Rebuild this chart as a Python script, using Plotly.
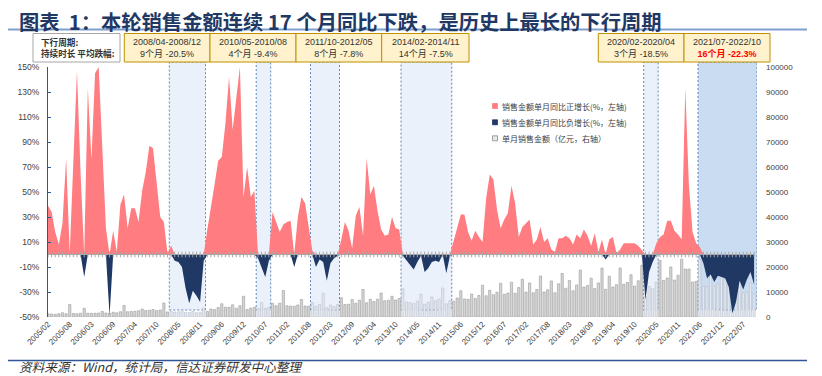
import plotly.graph_objects as go

# ---------------- data ----------------
YEARS = list(range(2005, 2023))
MONTHS = ["02", "03", "04", "05", "06", "07", "08", "09", "10", "11", "12"]
categories = [f"{y}/{m}" for y in YEARS for m in MONTHS if not (y == 2022 and int(m) > 10)]

# single-month YoY of sales amount (%), Feb..Dec each year (Jan merged into Feb)
yoy_2005 = [39, 34, 18, 8, 25, 77, 1, 75, 147, 65, -18]
yoy_2006 = [133, 76, 145, 150, 85, 21, -49, 19, 2, 40, 48]
yoy_2007 = [21, 37, 37, 26, 51, 66, 87, 85, 57, 30, 26]
yoy_2008 = [1, 7, -5, -6, -10, -27, -39, -29, -33, -38, -5]
yoy_2009 = [20, 40, 56, 75, 78, 105, 142, 100, 125, 150, 46]
yoy_2010 = [70, 46, 51, -3, -11, -18, -5, 34, 26, 18, 24]
yoy_2011 = [26, 27, -10, 30, 46, 41, 22, 3, -10, -4, -6]
yoy_2012 = [-21, -7, -3, -1, 12, 26, 19, 5, 31, 38, 15]
yoy_2013 = [77, 48, 55, 35, 20, 15, 16, 30, 21, 20, -1]
yoy_2014 = [-5, -9, -12, -6, -1, -14, -11, -6, -5, -6, 1]
yoy_2015 = [-15, -1, 10, 22, 32, 32, 18, 11, 19, 14, 10]
yoy_2016 = [45, 64, 60, 36, 21, 28, 33, 55, 41, 14, 22]
yoy_2017 = [25, 28, 8, 12, 22, 10, 13, 4, 2, 13, 13]
yoy_2018 = [15, 13, 8, 16, 13, 20, 15, 7, 17, 2, 12]
yoy_2019 = [-4, 12, 14, 1, 4, 9, 9, 9, 9, 7, 3]
yoy_2020 = [-36, -14, -6, 9, 14, 16, 27, 27, 19, 16, 12]
yoy_2021 = [133, 55, 18, 9, 6, -7, -19, -16, -22, -17, -18]
yoy_2022 = [-19, -26, -47, -38, -21, -28, -20, -14, -24]
yoy = (yoy_2005 + yoy_2006 + yoy_2007 + yoy_2008 + yoy_2009 + yoy_2010 + yoy_2011 +
       yoy_2012 + yoy_2013 + yoy_2014 + yoy_2015 + yoy_2016 + yoy_2017 + yoy_2018 +
       yoy_2019 + yoy_2020 + yoy_2021 + yoy_2022)

# single-month sales amount (100 million yuan)
sales_2005 = [1300, 1200, 1100, 1300, 1700, 1300, 5000, 1400, 1300, 1500, 3500]
sales_2006 = [1500, 1500, 1500, 1600, 2200, 1600, 1500, 1900, 1700, 2100, 4600]
sales_2007 = [2100, 2200, 2300, 2500, 3200, 2600, 2700, 3000, 2600, 2800, 5600]
sales_2008 = [2000, 2300, 2000, 2100, 2700, 1900, 1800, 2200, 1700, 1900, 3600]
sales_2009 = [2200, 3200, 3000, 3800, 5300, 3900, 3900, 4900, 3500, 4500, 8300]
sales_2010 = [3000, 3600, 3900, 3500, 5800, 3400, 3900, 5500, 4500, 5500, 10600]
sales_2011 = [4500, 4400, 4300, 4800, 7000, 4400, 4300, 5800, 4300, 5000, 9500]
sales_2012 = [3700, 4800, 4200, 5000, 7700, 5000, 5100, 7000, 5500, 6700, 11000]
sales_2013 = [5700, 7100, 6200, 7100, 9600, 6500, 6700, 8300, 6800, 7400, 11300]
sales_2014 = [6000, 5700, 5400, 6400, 9100, 5100, 5900, 8000, 6500, 7100, 11600]
sales_2015 = [5300, 6500, 6300, 7600, 10500, 7200, 7100, 9200, 7400, 8600, 12700]
sales_2016 = [8500, 10700, 8900, 9900, 13500, 9100, 9600, 13900, 9500, 11800, 15100]
sales_2017 = [10000, 13600, 9700, 11000, 16400, 10000, 10900, 14400, 9700, 13300, 17400]
sales_2018 = [11500, 14600, 10500, 12800, 18800, 12000, 12600, 15500, 11400, 13600, 19600]
sales_2019 = [11100, 16300, 12000, 12900, 19600, 13100, 13800, 16900, 12400, 14500, 20700]
sales_2020 = [8200, 12200, 11300, 14000, 22600, 14600, 15600, 20000, 14800, 16700, 23100]
sales_2021 = [19200, 19200, 14000, 14200, 23100, 12300, 12200, 17400, 12300, 13300, 21500]
sales_2022 = [15500, 14200, 7400, 11100, 18000, 9700, 10100, 13500, 9500]
sales = (sales_2005 + sales_2006 + sales_2007 + sales_2008 + sales_2009 + sales_2010 +
         sales_2011 + sales_2012 + sales_2013 + sales_2014 + sales_2015 + sales_2016 +
         sales_2017 + sales_2018 + sales_2019 + sales_2020 + sales_2021 + sales_2022)

TICK_LABELS = ["2005/02", "2005/08", "2006/03", "2006/09", "2007/04", "2007/10", "2008/05",
               "2008/11", "2009/06", "2009/12", "2010/07", "2011/02", "2011/08", "2012/03",
               "2012/09", "2013/04", "2013/10", "2014/05", "2014/11", "2015/06", "2015/12",
               "2016/07", "2017/02", "2017/08", "2018/03", "2018/09", "2019/04", "2019/10",
               "2020/05", "2020/11", "2021/06", "2021/12", "2022/07"]
LEFT_TICKS = [-50, -30, -10, 10, 30, 50, 70, 90, 110, 130, 150]
RIGHT_TICKS = [0, 10000, 20000, 30000, 40000, 50000, 60000, 70000, 80000, 90000, 100000]

# shaded down-cycle spans (first / last category covered)
SHADE_SPANS = [("2008/03", "2008/12"), ("2010/05", "2010/08"), ("2011/09", "2012/05"),
               ("2013/12", "2015/03"), ("2020/02", "2020/05"), ("2021/06", "2022/10")]
PERIOD_NAMES = ["2008/04-2008/12", "2010/05-2010/08", "2011/10-2012/05",
                "2014/02-2014/11", "2020/02-2020/04", "2021/07-2022/10"]
PERIOD_STATS = ["9个月 -20.5%", "4个月 -9.4%", "8个月 -7.8%", "14个月 -7.5%",
                "3个月 -18.5%", "16个月 -22.3%"]

TITLE = "图表  1：本轮销售金额连续 17 个月同比下跌，是历史上最长的下行周期"
SOURCE = "资料来源：Wind，统计局，信达证券研发中心整理"
HEADER = ["下行周期:", "持续时长 平均跌幅:"]
LEGEND_NAMES = ["销售金额单月同比正增长(%，左轴)", "销售金额单月同比负增长(%，左轴)",
                "单月销售金额（亿元，右轴）"]

# ---------------- styling / geometry ----------------
W, H = 822, 376
PL, PT, PW, PH = 48, 67, 709, 250
PINK = "#ff7c80"
NAVY = "#1f3864"
AXIS_BLUE = "#2f5597"
FONT = "Arial, 'Liberation Sans', 'Noto Sans CJK SC', sans-serif"
CJK = "'Noto Sans CJK SC', 'Liberation Sans', sans-serif"
X_END = 195.8


def px(x):
    return (x - PL) / PW


def py(y):
    return (PT + PH - y) / PH


n = len(categories)
pos = [max(v, 0) for v in yoy]
neg = [min(v, 0) for v in yoy]
idx = {c: i for i, c in enumerate(categories)}

spans_idx = []
for a, b in SHADE_SPANS:
    x0 = idx[a] - 0.5
    x1 = idx[b] + 0.5 if idx[b] < n - 1 else X_END
    spans_idx.append((x0, x1))

bar_fill, bar_line = [], []
for i in range(n):
    inside = any(x0 <= i <= x1 for x0, x1 in spans_idx)
    bar_fill.append("#e3e8ef" if inside else "#d6d6d6")
    bar_line.append("#b8c0cc" if inside else "#9a9a9a")

fig = go.Figure()

fig.add_trace(go.Bar(x=categories, y=sales, yaxis="y", width=0.62,
                     marker=dict(color=bar_fill, line=dict(color=bar_line, width=0.6)),
                     name=LEGEND_NAMES[2], showlegend=False, hoverinfo="skip"))
fig.add_trace(go.Scatter(x=categories, y=pos, yaxis="y2", mode="lines", fill="tozeroy",
                         fillcolor=PINK, line=dict(width=0, color=PINK),
                         name=LEGEND_NAMES[0], showlegend=False, hoverinfo="skip"))
fig.add_trace(go.Scatter(x=categories, y=neg, yaxis="y2", mode="lines", fill="tozeroy",
                         fillcolor=NAVY, line=dict(width=0, color=NAVY),
                         name=LEGEND_NAMES[1], showlegend=False, hoverinfo="skip"))
# category axis crossing at zero, with small tick marks
fig.add_trace(go.Scatter(x=categories, y=[0] * n, yaxis="y2", mode="lines+markers",
                         line=dict(color="#a6a6a6", width=1),
                         marker=dict(symbol="line-ns", size=4,
                                     line=dict(color="#a6a6a6", width=1)),
                         showlegend=False, hoverinfo="skip"))

shapes = []
for k, (x0, x1) in enumerate(spans_idx):
    fill = "#c9dcf1" if k == len(spans_idx) - 1 else "#eaf1fa"
    shapes.append(dict(type="rect", xref="x", yref="paper", x0=x0, x1=x1,
                       y0=py(310), y1=py(62), layer="below", fillcolor=fill,
                       line=dict(color="#5f87b5", width=1, dash="2px,2px")))

# header boxes
shapes.append(dict(type="rect", xref="paper", yref="paper", x0=px(33), x1=px(120),
                   y0=py(62), y1=py(33.5), fillcolor="white",
                   line=dict(color="#a6a6a6", width=1), layer="above"))
box_edges = [(124.3, 210), (210, 296), (296, 381.7), (381.7, 469), (598.3, 684), (684, 770)]
for a, b in box_edges:
    shapes.append(dict(type="rect", xref="paper", yref="paper", x0=px(a), x1=px(b),
                       y0=py(62), y1=py(33.5), fillcolor="#fff2cc",
                       line=dict(color="#bf9000", width=1), layer="above"))
# title rule and footer rule
shapes.append(dict(type="line", xref="paper", yref="paper", x0=px(8), x1=px(807),
                   y0=py(29.5), y1=py(29.5), line=dict(color="#7f9fcf", width=2)))
shapes.append(dict(type="line", xref="paper", yref="paper", x0=px(8), x1=px(807),
                   y0=py(360.5), y1=py(360.5), line=dict(color=AXIS_BLUE, width=1.5)))

# legend (swatches + labels)
LEG_COLORS = [(PINK, PINK), (NAVY, NAVY), ("#e6e6e6", "#8c8c8c")]
LEG_ROWS = [106, 122.3, 138.3]
for (fc, lc), ry in zip(LEG_COLORS, LEG_ROWS):
    shapes.append(dict(type="rect", xref="paper", yref="paper", x0=px(492.5), x1=px(497.5),
                       y0=py(ry + 2.5), y1=py(ry - 2.5), fillcolor=fc,
                       line=dict(color=lc, width=0.8), layer="above"))

annotations = [
    dict(text=f"<b>{TITLE}</b>", xref="paper", yref="paper", x=px(17), y=py(20.5),
         xanchor="left", yanchor="middle", showarrow=False,
         font=dict(family=CJK, size=20.3, color="#1f3864")),
    dict(text=f"<i>{SOURCE}</i>", xref="paper", yref="paper", x=px(17), y=py(366.5),
         xanchor="left", yanchor="middle", showarrow=False,
         font=dict(family=CJK, size=12.6, color="#333333")),
    dict(text=f"<b>{HEADER[0]}</b><br><b>{HEADER[1]}</b>", xref="paper", yref="paper",
         x=px(38.5), y=py(47.8), xanchor="left", yanchor="middle", align="left",
         showarrow=False, font=dict(family=CJK, size=8.6, color="#333333")),
]
for k, ((a, b), nm, st) in enumerate(zip(box_edges, PERIOD_NAMES, PERIOD_STATS)):
    last = k == len(box_edges) - 1
    line2 = f"<span style='color:#ff0000'><b>{st}</b></span>" if last else st
    annotations.append(dict(text=f"{nm}<br>{line2}", xref="paper", yref="paper",
                            x=px((a + b) / 2), y=py(47.8), xanchor="center",
                            yanchor="middle", align="center", showarrow=False,
                            font=dict(family=FONT, size=9, color="#333333")))
for name, ry in zip(LEGEND_NAMES, LEG_ROWS):
    annotations.append(dict(text=name, xref="paper", yref="paper", x=px(500), y=py(ry),
                            xanchor="left", yanchor="middle", showarrow=False,
                            font=dict(family=CJK, size=8, color="#404040")))

fig.update_layout(
    width=W, height=H,
    margin=dict(l=PL, r=W - PL - PW, t=PT, b=H - PT - PH, autoexpand=False),
    paper_bgcolor="white", plot_bgcolor="white",
    barmode="overlay", showlegend=False,
    shapes=shapes, annotations=annotations,
    xaxis=dict(type="category", range=[0, X_END], tickmode="array",
               tickvals=TICK_LABELS, ticktext=TICK_LABELS, tickangle=-45,
               tickfont=dict(family=FONT, size=8, color="#404040"),
               showgrid=False, showline=False, zeroline=False, ticks="", automargin=False),
    yaxis=dict(range=[0, 100000], side="right", tickmode="array", tickvals=RIGHT_TICKS,
               ticktext=[str(v) for v in RIGHT_TICKS],
               tickfont=dict(family=FONT, size=8, color="#404040"),
               showgrid=False, zeroline=False, showline=False, ticks="",
               ticklabelstandoff=8, automargin=False),
    yaxis2=dict(range=[-50, 150], overlaying="y", side="left", tickmode="array",
                tickvals=LEFT_TICKS, ticktext=[f"{v}%" for v in LEFT_TICKS],
                tickfont=dict(family=FONT, size=8.5, color="#404040"),
                ticks="inside", ticklen=3, tickcolor=AXIS_BLUE,
                showline=True, linecolor=AXIS_BLUE, linewidth=1,
                showgrid=False, zeroline=False, ticklabelstandoff=6, automargin=False),
)

fig.write_html("out.html", config={"displayModeBar": False},
               post_script="document.body.style.margin='0px';")
